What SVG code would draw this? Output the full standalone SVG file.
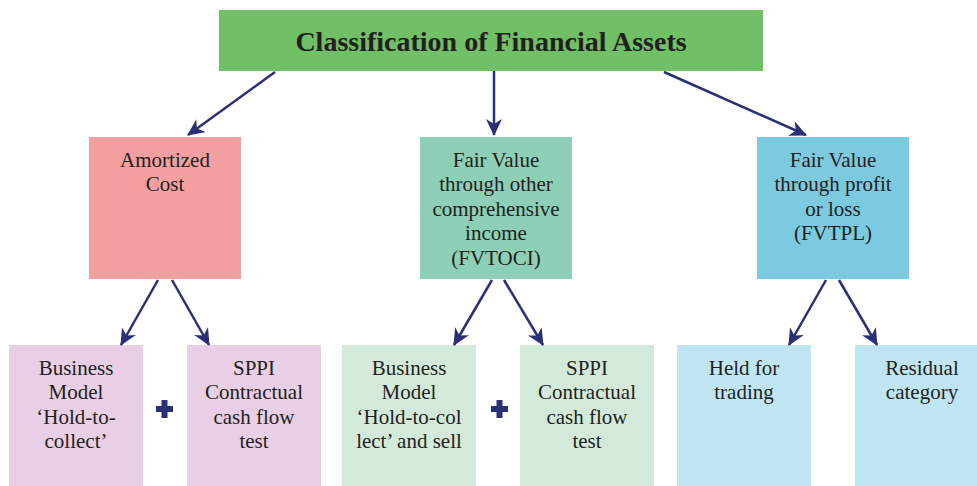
<svg xmlns="http://www.w3.org/2000/svg" width="977" height="486" viewBox="0 0 977 486">
<style>
.t{font-family:"Liberation Serif","Times New Roman",serif;font-size:21px;fill:#231f20;text-anchor:middle}
.title{font-family:"Liberation Serif","Times New Roman",serif;font-size:28px;font-weight:bold;fill:#231f20;text-anchor:middle}
.c line{stroke:#2b2f77;stroke-width:2.5;marker-end:url(#ah)}
</style>
<defs>
<marker id="ah" markerUnits="userSpaceOnUse" markerWidth="18" markerHeight="16" refX="16" refY="8" orient="auto" viewBox="0 0 18 16">
<path d="M0,0 L17,8 L0,16 L5,8 Z" fill="#2b2f77"/>
</marker>
</defs>
<rect width="977" height="486" fill="#ffffff"/>
<g id="title">
<rect x="219" y="10" width="544" height="61" fill="#71bf66"/>
<text class="title" x="491" y="51">Classification of Financial Assets</text>
</g>
<g id="amortized">
<rect x="89" y="137" width="152" height="142" fill="#f4a0a1"/>
<text class="t" x="165" y="167">Amortized</text>
<text class="t" x="165" y="191">Cost</text>
</g>
<g id="fvtoci">
<rect x="420" y="137" width="152" height="142" fill="#8dcfb7"/>
<text class="t" x="496" y="167">Fair Value</text>
<text class="t" x="496" y="191">through other</text>
<text class="t" x="496" y="216">comprehensive</text>
<text class="t" x="496" y="240">income</text>
<text class="t" x="496" y="265">(FVTOCI)</text>
</g>
<g id="fvtpl">
<rect x="757" y="137" width="152" height="142" fill="#7ccadf"/>
<text class="t" x="833" y="167">Fair Value</text>
<text class="t" x="833" y="191">through profit</text>
<text class="t" x="833" y="216">or loss</text>
<text class="t" x="833" y="240">(FVTPL)</text>
</g>
<g id="bm1">
<rect x="9" y="345" width="134" height="141" fill="#e8cfe6"/>
<text class="t" x="76" y="375">Business</text>
<text class="t" x="76" y="399">Model</text>
<text class="t" x="76" y="424">‘Hold-to-</text>
<text class="t" x="76" y="448">collect’</text>
</g>
<g id="sppi1">
<rect x="187" y="345" width="134" height="141" fill="#e8cfe6"/>
<text class="t" x="254" y="375">SPPI</text>
<text class="t" x="254" y="399">Contractual</text>
<text class="t" x="254" y="424">cash flow</text>
<text class="t" x="254" y="448">test</text>
</g>
<g id="bm2">
<rect x="342" y="345" width="134" height="141" fill="#d3eadb"/>
<text class="t" x="409" y="375">Business</text>
<text class="t" x="409" y="399">Model</text>
<text class="t" x="409" y="424">‘Hold-to-col</text>
<text class="t" x="409" y="448">lect’ and sell</text>
</g>
<g id="sppi2">
<rect x="520" y="345" width="134" height="141" fill="#d3eadb"/>
<text class="t" x="587" y="375">SPPI</text>
<text class="t" x="587" y="399">Contractual</text>
<text class="t" x="587" y="424">cash flow</text>
<text class="t" x="587" y="448">test</text>
</g>
<g id="held">
<rect x="677" y="345" width="134" height="141" fill="#bfe5f2"/>
<text class="t" x="744" y="375">Held for</text>
<text class="t" x="744" y="399">trading</text>
</g>
<g id="residual">
<rect x="855" y="345" width="122" height="141" fill="#bfe5f2"/>
<text class="t" x="922" y="375">Residual</text>
<text class="t" x="922" y="399">category</text>
</g>
<g id="plus1" fill="#2b2f77">
<rect x="156" y="406" width="17" height="6"/>
<rect x="161.5" y="400" width="6" height="18"/>
</g>
<g id="plus2" fill="#2b2f77">
<rect x="491" y="406" width="17" height="6"/>
<rect x="496.5" y="400" width="6" height="18"/>
</g>
<g id="connectors" class="c">
<line x1="275" y1="72" x2="188" y2="135"/>
<line x1="494" y1="71" x2="494" y2="135"/>
<line x1="664" y1="72" x2="806" y2="135"/>
<line x1="158" y1="280" x2="121" y2="345"/>
<line x1="172" y1="280" x2="209" y2="345"/>
<line x1="492" y1="280" x2="454" y2="345"/>
<line x1="504" y1="280" x2="543" y2="345"/>
<line x1="826" y1="280" x2="789" y2="345"/>
<line x1="839" y1="280" x2="877" y2="345"/>
</g>
</svg>
